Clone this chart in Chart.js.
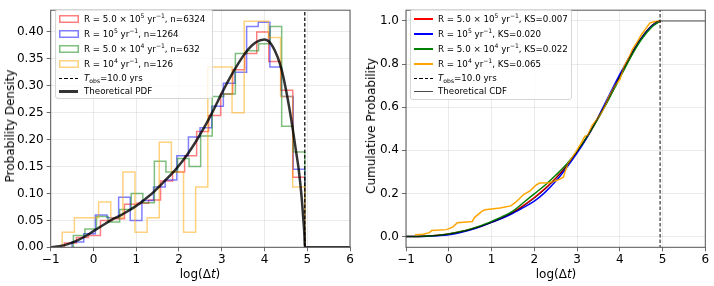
<!DOCTYPE html>
<html>
<head>
<meta charset="utf-8">
<script src="https://cdn.jsdelivr.net/npm/chart.js@4.4.0/dist/chart.umd.min.js"></script>
<style>
html, body { margin: 0; padding: 0; background: #fff; }
body { position: relative; width: 714px; height: 286px; overflow: hidden; font-family: "DejaVu Sans", sans-serif; color: #000; }
canvas { position: absolute; top: 0; }
#cvL { left: 0; }
#cvR { left: 357px; }
.title { position: absolute; font-size: 12px; white-space: nowrap; line-height: 1; }
.ytitle { transform: translate(-50%, -50%) rotate(-90deg); }
.xtitle { transform: translate(-50%, -50%); }
.legend { position: absolute; box-sizing: border-box; background: rgba(255,255,255,0.8); border: 1px solid #d6d6d6; border-radius: 3px; font-size: 8.7px; }
.row { position: absolute; left: 0; right: 0; height: 12px; line-height: 12px; white-space: nowrap; }
.row .txt { position: absolute; top: 0; }
.row .h { position: absolute; top: 50%; box-sizing: border-box; }
.row svg { position: absolute; top: 2px; left: 3px; }
sup, sub { font-size: 70%; line-height: 0; position: relative; vertical-align: baseline; }
sup { top: -0.55em; }
sub { top: 0.3em; }
</style>
</head>
<body>
<canvas id="cvL" width="357" height="286"></canvas>
<canvas id="cvR" width="357" height="286"></canvas>
<div class="title ytitle" style="left:10px; top:126px;">Probability Density</div>
<div class="title ytitle" style="left:371px; top:126px;">Cumulative Probability</div>
<div class="title xtitle" style="left:200px; top:274px;">log(Δ<i>t</i>)</div>
<div class="title xtitle" style="left:556px; top:274px;">log(Δ<i>t</i>)</div>
<div class="legend" id="legL" style="left:55px; top:9px; width:158px; height:90px;"></div>
<div class="legend" id="legR" style="left:410px; top:9px; width:162px; height:91px;"></div>
<script>
"use strict";

// ticks
const xTicks = [-1, 0, 1, 2, 3, 4, 5, 6];
const pdfTicks = [0, 0.05, 0.10, 0.15, 0.20, 0.25, 0.30, 0.35, 0.40];
const cdfTicks = [0, 0.2, 0.4, 0.6, 0.8, 1.0];
const tObs = 4.943; // log10 of 10 yrs in hours

// series
const rateLabels = [
    "R = 5.0 × 10<sup>5</sup> yr<sup>−1</sup>",
    "R = 10<sup>5</sup> yr<sup>−1</sup>",
    "R = 5.0 × 10<sup>4</sup> yr<sup>−1</sup>",
    "R = 10<sup>4</sup> yr<sup>−1</sup>"
];
const sampleSizes = [6324, 1264, 632, 126];
const ksValues = ["0.007", "0.020", "0.022", "0.065"];

// histograms: first bin edge of each series, 20 bins up to tObs
const binStart = [-0.68, -0.50, -0.47, -0.73];
const histRed = [0.008, 0.018, 0.022, 0.050, 0.053, 0.080, 0.082, 0.088, 0.123, 0.140, 0.170, 0.215, 0.245, 0.285, 0.330, 0.360, 0.400, 0.345, 0.292, 0.130];
const histBlue = [0.010, 0.025, 0.060, 0.055, 0.093, 0.050, 0.087, 0.112, 0.125, 0.170, 0.205, 0.222, 0.262, 0.305, 0.325, 0.410, 0.418, 0.335, 0.280, 0.145];
const histGreen = [0.022, 0.034, 0.057, 0.047, 0.070, 0.100, 0.083, 0.160, 0.140, 0.165, 0.150, 0.207, 0.280, 0.285, 0.360, 0.365, 0.378, 0.410, 0.225, 0.177];
const histOrange = [0.028, 0.055, 0.055, 0.084, 0.055, 0.140, 0.028, 0.055, 0.195, 0.140, 0.028, 0.112, 0.335, 0.335, 0.250, 0.420, 0.420, 0.390, 0.280, 0.112];

// theoretical pdf
const pdfX = [-1, -0.8, -0.6, -0.4, -0.2, 0, 0.2, 0.4, 0.6, 0.8, 1.0, 1.2, 1.4, 1.6, 1.8, 2.0, 2.2, 2.4, 2.6, 2.8, 3.0, 3.2, 3.4, 3.6, 3.8, 4.0, 4.2, 4.4, 4.6, 4.75, 4.8, 4.87, 4.91, 4.935, 4.943, 6];
const pdfY = [0, 0.002, 0.006, 0.012, 0.020, 0.030, 0.040, 0.050, 0.058, 0.067, 0.077, 0.089, 0.102, 0.118, 0.134, 0.152, 0.173, 0.197, 0.224, 0.254, 0.286, 0.316, 0.343, 0.366, 0.381, 0.386, 0.372, 0.330, 0.250, 0.172, 0.145, 0.092, 0.050, 0.020, 0, 0];

// cdfs
const cdfX = [-1, -0.75, -0.5, -0.25, 0, 0.25, 0.5, 0.75, 1, 1.25, 1.5, 1.75, 2, 2.25, 2.5, 2.75, 3, 3.25, 3.5, 3.75, 4, 4.25, 4.5, 4.75, 4.943, 6];
const cdfTheory = [0, 0.0004, 0.002, 0.005, 0.011, 0.020, 0.032, 0.047, 0.065, 0.086, 0.111, 0.141, 0.177, 0.219, 0.268, 0.326, 0.393, 0.469, 0.555, 0.647, 0.744, 0.839, 0.922, 0.981, 1.0, 1.0];
const cdfRed = [0, 0.0005, 0.002, 0.006, 0.012, 0.021, 0.033, 0.048, 0.067, 0.088, 0.113, 0.145, 0.181, 0.222, 0.270, 0.326, 0.392, 0.466, 0.552, 0.645, 0.740, 0.835, 0.918, 0.978, 1.0];
const cdfBlue = [0, 0.0003, 0.0015, 0.004, 0.008, 0.017, 0.030, 0.046, 0.066, 0.085, 0.108, 0.135, 0.164, 0.205, 0.256, 0.318, 0.387, 0.465, 0.556, 0.655, 0.752, 0.842, 0.918, 0.976, 1.0];
const cdfGreen = [0, 0.0005, 0.002, 0.006, 0.012, 0.022, 0.034, 0.050, 0.070, 0.092, 0.118, 0.158, 0.198, 0.238, 0.284, 0.334, 0.396, 0.468, 0.550, 0.640, 0.735, 0.830, 0.912, 0.972, 1.0];
const orangeCdfX = [-0.79, -0.60, -0.45, -0.40, -0.05, 0.10, 0.20, 0.55, 0.60, 0.78, 0.85, 1.20, 1.45, 1.55, 1.65, 1.75, 1.90, 2.05, 2.12, 2.35, 2.55, 2.68, 2.72, 2.78, 2.95, 3.10, 3.18, 3.25, 3.35, 3.45, 3.60, 3.75, 3.90, 4.00, 4.10, 4.20, 4.30, 4.40, 4.50, 4.60, 4.70, 4.80, 4.94];
const orangeCdfY = [0.008, 0.011, 0.018, 0.028, 0.032, 0.045, 0.064, 0.070, 0.088, 0.118, 0.124, 0.132, 0.142, 0.157, 0.175, 0.195, 0.212, 0.240, 0.248, 0.250, 0.262, 0.275, 0.300, 0.335, 0.385, 0.435, 0.465, 0.470, 0.515, 0.540, 0.585, 0.650, 0.705, 0.728, 0.790, 0.825, 0.870, 0.900, 0.935, 0.962, 0.990, 0.996, 1.0];

const colors = ["255,0,0", "0,0,255", "0,128,0", "255,165,0"];

// histogram outline points (step)
function histPoints(start, heights) {
    const w = (tObs - start) / heights.length;
    const pts = [{ x: start, y: 0 }];
    heights.forEach((h, i) => pts.push({ x: start + i * w, y: h }));
    pts.push({ x: tObs, y: 0 });
    return pts;
}

function xy(xs, ys) {
    return ys.map((y, i) => ({ x: xs[i], y: y }));
}

const minus = v => v < 0 ? "\u2212" + Math.abs(v) : String(v);

// draw all four spines
const frame = {
    id: "frame",
    afterDatasetsDraw(chart) {
        const { ctx, chartArea: a } = chart;
        ctx.save();
        ctx.strokeStyle = "#555";
        ctx.lineWidth = 1;
        ctx.strokeRect(a.left, a.top, a.right - a.left, a.bottom - a.top);
        ctx.restore();
    }
};

function makeChart(id, datasets, yMin, yMax, yTicks, digits, yWidth, padRight) {
    const tickFont = { family: "DejaVu Sans", size: 12 };
    return new Chart(document.getElementById(id), {
        type: "line",
        data: { datasets: datasets },
        options: {
            responsive: false,
            animation: false,
            devicePixelRatio: 1,
            layout: { padding: { top: 5, right: padRight, left: 0, bottom: 0 } },
            plugins: { legend: { display: false }, tooltip: { enabled: false } },
            elements: { point: { radius: 0 } },
            scales: {
                x: {
                    type: "linear", min: -1, max: 6,
                    afterBuildTicks: s => { s.ticks = xTicks.map(v => ({ value: v })); },
                    afterFit: s => { s.height = 38.7; },
                    grid: { color: "rgba(0,0,0,0.1)", lineWidth: 0.8, tickLength: 4, tickColor: "#444", tickWidth: 0.8 },
                    border: { display: false },
                    ticks: { color: "#000", font: tickFont, padding: 1, maxRotation: 0, autoSkip: false, callback: v => minus(v) }
                },
                y: {
                    type: "linear", min: yMin, max: yMax,
                    afterBuildTicks: s => { s.ticks = yTicks.map(v => ({ value: v })); },
                    afterFit: s => { s.width = yWidth; },
                    grid: { color: "rgba(0,0,0,0.1)", lineWidth: 0.8, tickLength: 4, tickColor: "#444", tickWidth: 0.8 },
                    border: { display: false },
                    ticks: { color: "#000", font: tickFont, padding: 3, autoSkip: false, callback: v => v.toFixed(digits) }
                }
            }
        },
        plugins: [frame]
    });
}

// left: histograms + pdf
const histData = [histRed, histBlue, histGreen, histOrange];
const leftSets = histData.map((h, i) => ({
    data: histPoints(binStart[i], h),
    borderColor: "rgba(" + colors[i] + ",0.5)",
    borderWidth: 1.5,
    stepped: true,
    fill: false,
    order: 6 - i
}));
leftSets.push({
    data: [{ x: tObs, y: -1 }, { x: tObs, y: 2 }],
    borderColor: "#000", borderWidth: 1.2, borderDash: [3.5, 2], order: 2
});
leftSets.push({
    data: xy(pdfX, pdfY),
    borderColor: "rgba(0,0,0,0.8)", borderWidth: 2.5,
    cubicInterpolationMode: "monotone", order: 1
});
makeChart("cvL", leftSets, 0, 0.4405, pdfTicks, 2, 50.7, 7);

// right: cdfs
const cdfData = [cdfRed, cdfBlue, cdfGreen];
const rightSets = cdfData.map((c, i) => ({
    data: xy(cdfX, c),
    borderColor: "rgb(" + colors[i] + ")",
    borderWidth: 1.5,
    cubicInterpolationMode: "monotone",
    order: 6 - i
}));
rightSets.push({
    data: xy(orangeCdfX, orangeCdfY),
    borderColor: "rgb(" + colors[3] + ")", borderWidth: 1.5, order: 3
});
rightSets.push({
    data: [{ x: tObs, y: -1 }, { x: tObs, y: 2 }],
    borderColor: "rgba(0,0,0,0.8)", borderWidth: 1.2, borderDash: [3.5, 2], order: 2
});
rightSets.push({
    data: xy(cdfX, cdfTheory),
    borderColor: "rgba(0,0,0,0.7)", borderWidth: 1,
    cubicInterpolationMode: "monotone", order: 1
});
makeChart("cvR", rightSets, -0.05, 1.05, cdfTicks, 1, 49, 8.7);

// legends
const rowCenters = [8.5, 23.5, 38.8, 53.8, 68.4, 81.4];

function addRow(box, center, handle, textLeft, html) {
    const row = document.createElement("div");
    row.className = "row";
    row.style.top = (center - 6) + "px";
    if (typeof handle === "string" && handle.startsWith("<svg")) {
        row.innerHTML = handle;
    } else {
        const h = document.createElement("span");
        h.className = "h";
        h.style.cssText = handle;
        row.appendChild(h);
    }
    const t = document.createElement("span");
    t.className = "txt";
    t.style.left = textLeft + "px";
    t.innerHTML = html;
    row.appendChild(t);
    box.appendChild(row);
}

const legL = document.getElementById("legL");
const legR = document.getElementById("legR");
const dashCss = "left:3px; height:1.3px; margin-top:-0.6px; width:19px; background:repeating-linear-gradient(to right,#000 0 3.5px,transparent 3.5px 5.5px);";
const tobsText = "<i>T</i><sub>obs</sub>=10.0 yrs";

rateLabels.forEach((lab, i) => {
    const box = '<svg width="20" height="8" viewBox="0 0 20 8"><rect x="0.75" y="0.75" width="18.5" height="6.5" fill="none" stroke="rgba(' +
        colors[i] + ',0.5)" stroke-width="1.5"/></svg>';
    addRow(legL, rowCenters[i], box, 28, lab + ", n=" + sampleSizes[i]);
    addRow(legR, rowCenters[i],
        "left:3px; width:19px; height:2px; margin-top:-1px; background:rgb(" + colors[i] + ");",
        27, lab + ", KS=" + ksValues[i]);
});
addRow(legL, rowCenters[4], dashCss, 28, tobsText);
addRow(legR, rowCenters[4], dashCss, 27, tobsText);
addRow(legL, rowCenters[5], "left:3px; width:19px; height:2.5px; margin-top:-1.2px; background:rgba(0,0,0,0.8);", 28, "Theoretical PDF");
addRow(legR, rowCenters[5], "left:3px; width:19px; height:1px; margin-top:-0.5px; background:rgba(0,0,0,0.7);", 27, "Theoretical CDF");
</script>
</body>
</html>
